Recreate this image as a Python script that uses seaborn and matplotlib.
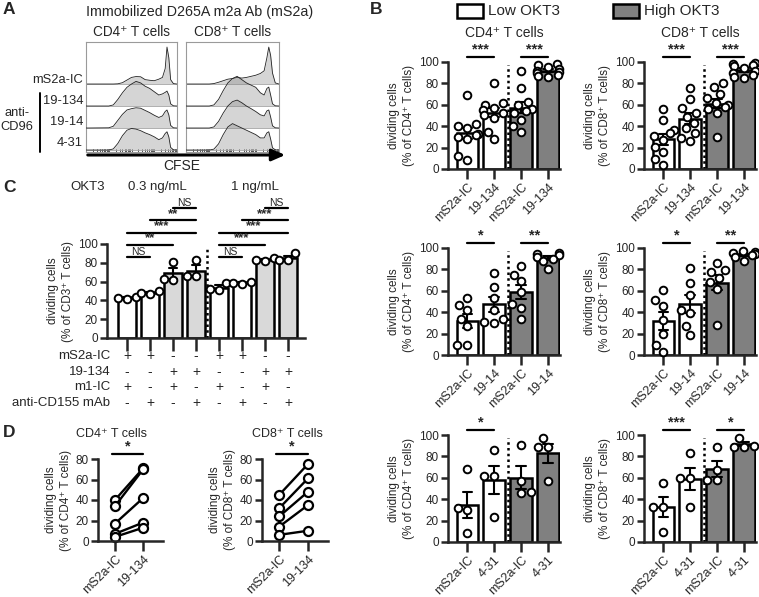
import numpy as np
import pandas as pd
import matplotlib
matplotlib.use('Agg')
import matplotlib.pyplot as plt
import seaborn as sns
from matplotlib.patches import Rectangle

# ---------------- data ----------------
# A: CFSE histograms, heights (in row units) on a relative CFSE grid
cfse_x = [0.0, 0.25, 0.30, 0.35, 0.40, 0.45, 0.50, 0.55, 0.60, 0.65, 0.70,
          0.75, 0.80, 0.84, 0.87, 0.89, 0.91, 0.93, 0.96, 1.0]
hist_rows = ['mS2a-IC', '19-134', '19-14', '4-31']
cd4_hist = [
    [0, 0, 0, 0.01, 0.06, 0.18, 0.30, 0.34, 0.33, 0.20, 0.17, 0.15, 0.22, 0.30, 0.70, 1.68, 1.20, 0.20, 0.02, 0],
    [0, 0, 0.05, 0.30, 0.60, 0.85, 1.00, 1.12, 1.05, 0.90, 0.80, 0.65, 0.50, 0.55, 0.62, 0.68, 0.50, 0.10, 0.01, 0],
    [0, 0.01, 0.08, 0.35, 0.62, 0.82, 0.88, 0.92, 0.90, 0.80, 0.70, 0.58, 0.48, 0.55, 0.75, 0.82, 0.60, 0.12, 0.01, 0],
    [0, 0, 0.05, 0.30, 0.65, 0.90, 0.98, 0.95, 0.88, 0.78, 0.70, 0.60, 0.47, 0.55, 0.75, 0.83, 0.60, 0.12, 0.01, 0],
]
cd8_hist = [
    [0, 0, 0.02, 0.08, 0.15, 0.22, 0.25, 0.30, 0.27, 0.30, 0.35, 0.40, 0.48, 0.60, 1.20, 1.68, 1.30, 0.50, 0.05, 0],
    [0, 0, 0.05, 0.30, 0.70, 1.05, 1.25, 1.35, 1.20, 1.05, 0.95, 0.85, 0.60, 0.50, 0.80, 0.86, 0.50, 0.10, 0.01, 0],
    [0, 0, 0.05, 0.30, 0.68, 1.00, 1.20, 1.27, 1.15, 1.00, 0.88, 0.75, 0.60, 0.55, 0.78, 0.82, 0.50, 0.10, 0.01, 0],
    [0, 0, 0.04, 0.28, 0.70, 1.05, 1.20, 1.10, 1.00, 0.90, 0.80, 0.70, 0.55, 0.55, 0.78, 0.83, 0.50, 0.10, 0.01, 0],
]

# B: order = mS2a-IC low, mAb low, mS2a-IC high, mAb high
cd4_19134 = [[69, 42, 40, 38, 33, 32, 30, 28, 12, 8],
             [80, 62, 60, 57, 55, 52, 50, 48, 35, 28],
             [92, 76, 63, 60, 56, 54, 52, 46, 40, 35],
             [98, 97, 95, 93, 92, 91, 90, 88, 87, 86]]
cd8_19134 = [[56, 46, 36, 34, 31, 27, 21, 16, 9, 4],
             [76, 65, 57, 52, 49, 43, 38, 34, 29, 26],
             [80, 77, 70, 66, 62, 60, 58, 56, 52, 30],
             [99, 98, 97, 96, 94, 92, 90, 88, 86, 85]]
cd4_1914 = [[53, 47, 42, 34, 27, 9, 9],
            [77, 64, 53, 42, 34, 31, 30],
            [83, 75, 69, 59, 48, 44, 34],
            [95, 94, 93, 92, 90, 88, 80]]
cd8_1914 = [[61, 51, 46, 33, 20, 9, 3],
            [81, 67, 56, 42, 39, 27, 19],
            [86, 79, 78, 72, 68, 62, 28],
            [97, 96, 95, 94, 93, 92, 88]]
cd4_431 = [[68, 32, 30, 8], [86, 62, 62, 23], [91, 57, 47, 46], [97, 89, 89, 57]]
cd8_431 = [[55, 33, 33, 9], [83, 60, 60, 33], [89, 67, 58, 58], [97, 90, 89, 89]]
b_clones = ['19-134', '19-14', '4-31']
b_stars_cd4 = [('***', '***'), ('*', '**'), ('*', '')]
b_stars_cd8 = [('***', '***'), ('*', '**'), ('***', '*')]

# C
c_vals = [[42, 44, 43], [47, 50, 48], [81, 63, 62], [83, 66, 66],
          [58, 51, 52], [57, 60, 58], [85, 82, 83], [90, 83, 83]]
c_rows = ['mS2a-IC', '19-134', 'm1-IC', 'anti-CD155 mAb']
c_signs = [['+', '+', '-', '-', '+', '+', '-', '-'],
           ['-', '-', '+', '+', '-', '-', '+', '+'],
           ['+', '-', '+', '-', '+', '-', '+', '-'],
           ['-', '+', '-', '+', '-', '+', '-', '+']]
c_pairs = [(0, 1, 'NS'), (0, 2, '**'), (0, 3, '***'), (1, 3, '**'), (2, 3, 'NS'),
           (4, 5, 'NS'), (4, 6, '***'), (4, 7, '***'), (5, 7, '***'), (6, 7, 'NS')]

# D: paired donors
d_cd4_ic = [40, 34, 17, 7, 4]
d_cd4_ab = [71, 70, 42, 18, 13]
d_cd8_ic = [45, 32, 24, 14, 6]
d_cd8_ab = [75, 61, 48, 35, 10]

# ---------------- style ----------------
sns.set_style('ticks')
plt.rcParams['font.family'] = ['Liberation Sans', 'DejaVu Sans']
plt.rcParams['axes.linewidth'] = 1.8
plt.rcParams['xtick.major.width'] = 1.8
plt.rcParams['ytick.major.width'] = 1.8

W, H = 759, 597
fig = plt.figure(figsize=(W / 100, H / 100), dpi=100)
WHITE, DARK, LIGHT = 'white', '#808080', '#d9d9d9'


def add_ax(l, t, r, b):
    return fig.add_axes([l / W, 1 - b / H, (r - l) / W, (b - t) / H])


def ftext(x, y, s, **kw):
    fig.text(x / W, 1 - y / H, s, **kw)


def style_ax(ax, ylabel):
    sns.despine(ax=ax)
    ax.tick_params(axis='y', length=5, labelsize=8.5, pad=1.5)
    ax.tick_params(axis='x', length=7, labelsize=9, pad=1.5)
    ax.set_xlabel('')
    ax.set_ylabel(ylabel, fontsize=8.5, labelpad=3, linespacing=1.3)


def draw_bars(ax, groups, colors, width=0.8):
    keys = [f'g{i}' for i in range(len(groups))]
    df = pd.DataFrame({'cond': [k for k, g in zip(keys, groups) for _ in g],
                       'val': [v for g in groups for v in g]})
    sns.barplot(data=df, x='cond', y='val', hue='cond', order=keys, hue_order=keys,
                palette=dict(zip(keys, colors)), legend=False, errorbar='se',
                capsize=0.35, width=width, edgecolor='black', linewidth=1.8,
                err_kws={'color': 'black', 'linewidth': 1.5}, ax=ax)
    sns.swarmplot(data=df, x='cond', y='val', order=keys, color='white',
                  edgecolor='black', linewidth=1.4, size=5.5, ax=ax, zorder=4,
                  clip_on=False, warn_thresh=1)


def sig(ax, x0, x1, y, label, fs=10.5):
    ax.plot([x0, x1], [y, y], color='black', lw=1.6, clip_on=False)
    ax.text((x0 + x1) / 2, y + 0.3, label, ha='center', va='bottom',
            fontsize=fs, fontweight='bold' if label != 'NS' else 'normal', clip_on=False)


# overlay axes in pixel coordinates for annotation lines
fig_ax = fig.add_axes([0, 0, 1, 1], facecolor='none', zorder=5)
fig_ax.set_xlim(0, W)
fig_ax.set_ylim(H, 0)
fig_ax.axis('off')

# ---------------- A ----------------
ftext(3, 2, 'A', fontsize=12.5, fontweight='bold', va='top')
ftext(86, 12, 'Immobilized D265A m2a Ab (mS2a)', fontsize=10.3, va='center')
for (l, r), title, curves in [((86, 177), 'CD4⁺ T cells', cd4_hist),
                              ((186, 279), 'CD8⁺ T cells', cd8_hist)]:
    ax = add_ax(l, 42, r, 152)
    ftext((l + r) / 2, 32, title, fontsize=9.8, ha='center', va='center')
    for k, h in enumerate(curves):
        base = 3 - k
        top = np.array(h) + base
        ax.fill_between(cfse_x, base, top, color='#808080', alpha=0.33, lw=0, zorder=2 + k)
        ax.plot(cfse_x, top, color='#222222', lw=0.6, zorder=2.5 + k)
        ax.axhline(base, color='#b0b0b0', lw=0.6, zorder=1)
    ax.set_xlim(0, 1)
    ax.set_ylim(-0.09, 4.91)
    ax.set_yticks([])
    ticks = [(d + np.log10(m)) / 4 for d in range(4) for m in range(1, 10)]
    ax.set_xticks(ticks)
    ax.set_xticklabels([])
    ax.tick_params(axis='x', direction='in', length=2, width=0.6, color='#333333')
    for s in ax.spines.values():
        s.set_color('#9a9a9a')
        s.set_linewidth(0.8)

fig_ax.annotate('', xy=(288, 155), xytext=(85, 155),
                arrowprops=dict(arrowstyle='-|>,head_length=0.8,head_width=0.35',
                                lw=2.2, color='black'))
fig_ax.plot([40, 40], [93, 152], color='black', lw=1.4)
ftext(182, 166, 'CFSE', fontsize=10, ha='center', va='center')
for lab, y in zip(hist_rows, [80, 101, 122, 143]):
    ftext(83, y, lab, fontsize=9.3, ha='right', va='center')
ftext(17, 120, 'anti-\nCD96', fontsize=9.3, ha='center', va='center', linespacing=1.2)

# ---------------- B ----------------
ftext(370, 2, 'B', fontsize=12.5, fontweight='bold', va='top')
for x0, fc, lab in [(457, WHITE, 'Low OKT3'), (613, DARK, 'High OKT3')]:
    fig_ax.add_patch(Rectangle((x0, 4), 26, 14, facecolor=fc, edgecolor='black', lw=1.8))
    ftext(x0 + 31, 11, lab, fontsize=11, va='center')

b_sets = [(448, 'CD4', [cd4_19134, cd4_1914, cd4_431], b_stars_cd4),
          (644, 'CD8', [cd8_19134, cd8_1914, cd8_431], b_stars_cd8)]
row_tops = [62, 248, 435]
for left, cell, panels, stars in b_sets:
    for i, (groups, top) in enumerate(zip(panels, row_tops)):
        ax = add_ax(left, top, left + 112, top + 107)
        draw_bars(ax, groups, [WHITE, WHITE, DARK, DARK])
        ax.plot([1.5, 1.5], [0, 97], color='black', lw=1.8, ls=(0, (1, 1.3)))
        ax.set_xlim(-0.72, 3.45)
        ax.set_ylim(0, 100)
        ax.set_yticks(range(0, 101, 20))
        ax.set_xticks(range(4))
        ax.set_xticklabels(['mS2a-IC', b_clones[i], 'mS2a-IC', b_clones[i]],
                           rotation=45, ha='right', rotation_mode='anchor')
        style_ax(ax, f'dividing cells\n(% of {cell}⁺ T cells)')
        for (x0, x1), s in zip([(0, 1), (2, 3)], stars[i]):
            if s:
                sig(ax, x0, x1, 105, s)
        if i == 0:
            ftext(left + 56, 33, f'{cell}⁺ T cells', fontsize=10, ha='center', va='center')

# ---------------- C ----------------
ftext(3, 180, 'C', fontsize=12.5, fontweight='bold', va='top')
ftext(88, 187, 'OKT3', fontsize=9.5, ha='center', va='center')
ftext(157, 187, '0.3 ng/mL', fontsize=9.5, ha='center', va='center')
ftext(255, 187, '1 ng/mL', fontsize=9.5, ha='center', va='center')
ax = add_ax(107, 244, 305, 338)
draw_bars(ax, c_vals, [WHITE, WHITE, LIGHT, LIGHT, WHITE, WHITE, LIGHT, LIGHT])
ax.plot([3.5, 3.5], [0, 97], color='black', lw=1.8, ls=(0, (1, 1.3)))
ax.set_xlim(-0.87, 7.74)
ax.set_ylim(0, 100)
ax.set_yticks(range(0, 101, 20))
ax.set_xticks(range(8))
ax.set_xticklabels([])
style_ax(ax, 'dividing cells\n(% of CD3⁺ T cells)')
ax.tick_params(axis='x', length=9)
for k, (i, j, s) in enumerate(c_pairs):
    level = 86 + 13 * (k % 5)
    sig(ax, i, j, level, s, fs=7.5 if s == 'NS' else 9.5)
tr = ax.get_xaxis_transform()
for r, (lab, row) in enumerate(zip(c_rows, c_signs)):
    yy = -0.19 - 0.167 * r
    ax.text(-0.72, yy, lab, transform=tr, ha='right', va='center', fontsize=9.5, clip_on=False)
    for x, s in enumerate(row):
        ax.text(x, yy, s, transform=tr, ha='center', va='center', fontsize=10, clip_on=False)

# ---------------- D ----------------
ftext(3, 425, 'D', fontsize=12.5, fontweight='bold', va='top')
for (l, r), cell, ic, ab, tx in [((98, 163), 'CD4', d_cd4_ic, d_cd4_ab, 112),
                                 ((262, 328), 'CD8', d_cd8_ic, d_cd8_ab, 287)]:
    ax = add_ax(l, 459, r, 541)
    df = pd.DataFrame({'pair': list(range(len(ic))) * 2,
                       'pos': [0] * len(ic) + [1] * len(ab),
                       'val': ic + ab})
    sns.lineplot(data=df, x='pos', y='val', units='pair', estimator=None, color='black',
                 lw=1.7, marker='o', markersize=6.5, markerfacecolor='white',
                 markeredgecolor='black', markeredgewidth=1.6, legend=False, ax=ax,
                 clip_on=False)
    ax.set_xlim(-0.6, 1.7)
    ax.set_ylim(0, 80)
    ax.set_yticks(range(0, 81, 20))
    ax.set_xticks([0, 1])
    ax.set_xticklabels(['mS2a-IC', '19-134'], rotation=45, ha='right', rotation_mode='anchor')
    style_ax(ax, f'dividing cells\n(% of {cell}⁺ T cells)')
    sig(ax, -0.1, 1.0, 85, '*')
    ftext(tx, 434, f'{cell}⁺ T cells', fontsize=9, ha='center', va='center')

fig.savefig('out.png', dpi=100)
